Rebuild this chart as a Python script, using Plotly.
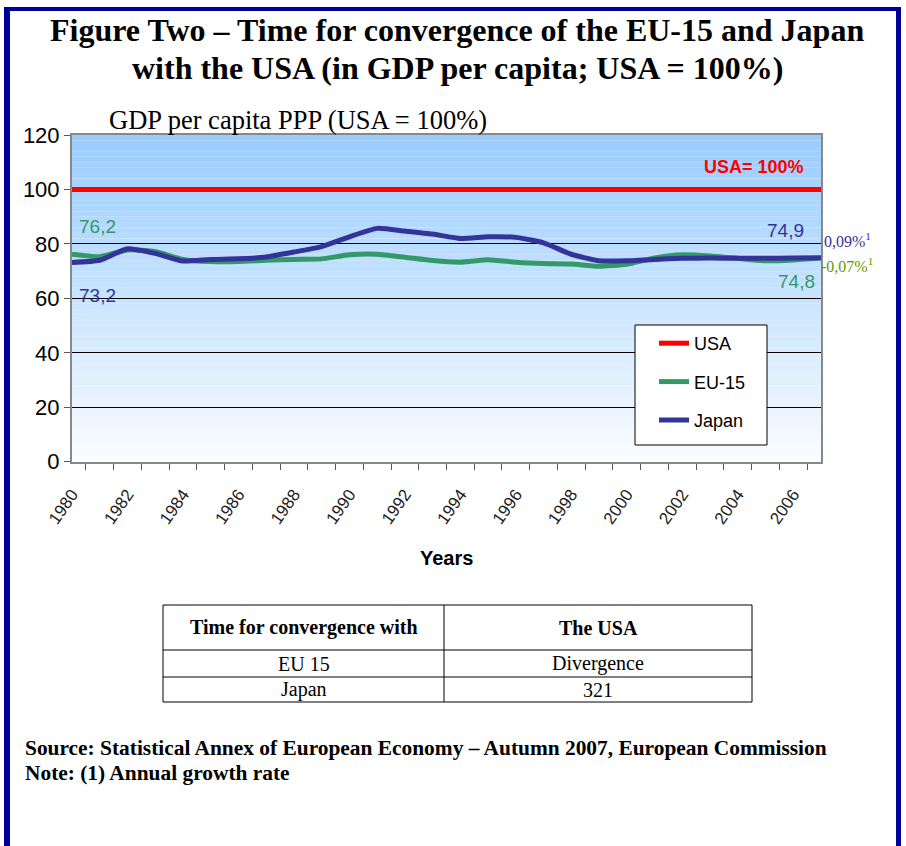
import plotly.graph_objects as go

W, H = 906, 846

years = [str(y) for y in range(1980, 2008)]
usa = [100, 100, 100, 100, 100, 100, 100, 100, 100, 100, 100, 100, 100, 100,
       100, 100, 100, 100, 100, 100, 100, 100, 100, 100, 100, 100, 100, 100]
eu15 = [76.2, 75.3, 77.8, 77.2, 74.3, 73.5, 73.5, 74.0, 74.3, 74.5, 76.0, 76.2, 75.1, 73.9,
        73.3, 74.2, 73.3, 72.8, 72.6, 71.8, 72.5, 74.8, 76.0, 75.6, 74.7, 73.8, 74.1, 74.8]
japan = [73.2, 74.0, 78.2, 76.5, 73.7, 74.3, 74.5, 75.2, 77.0, 79.0, 82.6, 85.7, 84.7, 83.6,
         82.0, 82.6, 82.4, 80.4, 76.2, 73.8, 73.8, 74.3, 74.7, 74.8, 74.7, 74.7, 74.8, 74.9]
tick_labels = [y if int(y) % 2 == 0 else "" for y in years]

table_header = ["Time for convergence with", "The USA"]
table_col1 = ["EU 15", "Japan"]
table_col2 = ["Divergence", "321"]

RED = "#FF0000"
GREEN = "#339966"
BLUE = "#333399"
NAVY = "#000099"
SANS = "Liberation Sans Narrow, Arial Narrow, Liberation Sans, Arial"
SERIF = "Liberation Serif, Times New Roman, serif"


def px_x(x):
    return x / W


def px_y(y):
    return 1 - y / H


fig = go.Figure()

fig.add_trace(go.Scatter(x=years, y=usa, name="USA", mode="lines",
                         line=dict(color=RED, width=5), legendgroup="a"))
fig.add_trace(go.Scatter(x=years, y=eu15, name="EU-15", mode="lines",
                         line=dict(color=GREEN, width=5, shape="spline", smoothing=0.5),
                         legendgroup="b"))
fig.add_trace(go.Scatter(x=years, y=japan, name="Japan", mode="lines",
                         line=dict(color=BLUE, width=5, shape="spline", smoothing=0.5),
                         legendgroup="c"))

shapes = []
# gradient background of the plot area
n = 60
top = (153, 204, 255)
bot = (250, 252, 255)
for i in range(n):
    t = i / (n - 1)
    c = tuple(int(round(bot[k] + (top[k] - bot[k]) * t)) for k in range(3))
    shapes.append(dict(type="rect", xref="x domain", yref="y domain",
                       x0=0, x1=1, y0=i / n, y1=(i + 1) / n, layer="below",
                       line=dict(width=0), fillcolor="rgb(%d,%d,%d)" % c))
# legend box
shapes.append(dict(type="rect", xref="paper", yref="paper", x0=px_x(635), x1=px_x(767),
                   y0=px_y(445), y1=px_y(325), fillcolor="white", layer="above",
                   line=dict(color="black", width=1)))
# page border
shapes.append(dict(type="rect", xref="paper", yref="paper", x0=px_x(4), x1=px_x(10),
                   y0=0, y1=px_y(7), fillcolor=NAVY, line=dict(width=0)))
shapes.append(dict(type="rect", xref="paper", yref="paper", x0=px_x(4), x1=px_x(901),
                   y0=px_y(11), y1=px_y(7), fillcolor=NAVY, line=dict(width=0)))
shapes.append(dict(type="rect", xref="paper", yref="paper", x0=px_x(896), x1=px_x(901),
                   y0=0, y1=px_y(7), fillcolor=NAVY, line=dict(width=0)))

# table frame
TL, TM, TR = 163, 444, 752
TY = [605, 650, 677, 702]
shapes.append(dict(type="rect", xref="paper", yref="paper", x0=px_x(TL), x1=px_x(TR),
                   y0=px_y(TY[3]), y1=px_y(TY[0]), line=dict(color="black", width=1)))
shapes.append(dict(type="line", xref="paper", yref="paper", x0=px_x(TM), x1=px_x(TM),
                   y0=px_y(TY[3]), y1=px_y(TY[0]), line=dict(color="black", width=1)))
for yy in TY[1:3]:
    shapes.append(dict(type="line", xref="paper", yref="paper", x0=px_x(TL), x1=px_x(TR),
                       y0=px_y(yy), y1=px_y(yy), line=dict(color="black", width=1)))

annotations = [
    dict(text="<b>Figure Two – Time for convergence of the EU-15 and Japan</b>",
         x=px_x(457), y=px_y(30), font=dict(family=SERIF, size=32, color="black")),
    dict(text="<b>with the USA (in GDP per capita; USA = 100%)</b>",
         x=px_x(457), y=px_y(68), font=dict(family=SERIF, size=32, color="black")),
    dict(text="GDP per capita PPP (USA = 100%)", x=px_x(107), y=px_y(120), xanchor="left",
         font=dict(family=SERIF, size=26.5, color="black")),
    dict(text="<b>Years</b>", x=px_x(446), y=px_y(558),
         font=dict(family=SANS, size=20, color="black")),
    dict(text="<b>USA= 100%</b>", x=px_x(806), y=px_y(167), xanchor="right",
         font=dict(family=SANS, size=18, color=RED)),
    dict(text="76,2", x=px_x(77), y=px_y(226), xanchor="left",
         font=dict(family=SANS, size=19, color=GREEN)),
    dict(text="73,2", x=px_x(77), y=px_y(295), xanchor="left",
         font=dict(family=SANS, size=19, color=BLUE)),
    dict(text="74,9", x=px_x(806), y=px_y(230), xanchor="right",
         font=dict(family=SANS, size=19, color=BLUE)),
    dict(text="74,8", x=px_x(817), y=px_y(281), xanchor="right",
         font=dict(family=SANS, size=19, color=GREEN)),
    dict(text="0,09%<sup>1</sup>", x=px_x(822), y=px_y(240), xanchor="left",
         font=dict(family=SERIF, size=16, color=BLUE)),
    dict(text="-0,07%<sup>1</sup>", x=px_x(819), y=px_y(265), xanchor="left",
         font=dict(family=SERIF, size=16, color="#669900")),
    dict(text="<b>Source: Statistical Annex of European Economy – Autumn 2007, European Commission</b>",
         x=px_x(23), y=px_y(748), xanchor="left",
         font=dict(family=SERIF, size=21.4, color="black")),
    dict(text="<b>Note: (1) Annual growth rate</b>",
         x=px_x(23), y=px_y(773), xanchor="left",
         font=dict(family=SERIF, size=21.4, color="black")),
]
# table texts
col_x = [(TL + TM) / 2, (TM + TR) / 2]
for j, h in enumerate(table_header):
    annotations.append(dict(text="<b>" + h + "</b>", x=px_x(col_x[j]),
                            y=px_y((TY[0] + TY[1]) / 2),
                            font=dict(family=SERIF, size=20, color="black")))
for i in range(2):
    yc = (TY[i + 1] + TY[i + 2]) / 2
    annotations.append(dict(text=table_col1[i], x=px_x(col_x[0]), y=px_y(yc),
                            font=dict(family=SERIF, size=20, color="black")))
    annotations.append(dict(text=table_col2[i], x=px_x(col_x[1]), y=px_y(yc),
                            font=dict(family=SERIF, size=20, color="black")))

for a in annotations:
    a.update(xref="paper", yref="paper", showarrow=False)
    a.setdefault("xanchor", "center")
    a.setdefault("yanchor", "middle")

fig.update_layout(
    width=W, height=H,
    margin=dict(l=0, r=0, t=0, b=0, autoexpand=False),
    paper_bgcolor="white",
    plot_bgcolor="white",
    shapes=shapes,
    annotations=annotations,
    showlegend=True,
    legend=dict(x=px_x(654), y=px_y(325), xanchor="left", yanchor="top",
                bgcolor="rgba(0,0,0,0)", borderwidth=0,
                font=dict(family=SANS, size=18, color="black"),
                tracegroupgap=12, itemwidth=30),
    xaxis=dict(domain=[px_x(72), px_x(821)], type="category", automargin=False,
               tickmode="array", tickvals=years, ticktext=tick_labels,
               tickson="boundaries", ticks="outside", ticklen=6, tickcolor="#555555",
               tickangle=-55, tickfont=dict(family=SANS, size=17, color="#222222"),
               ticklabelstandoff=14,
               showline=True, linecolor="#888888", linewidth=2, mirror=True,
               showgrid=False, zeroline=False),
    yaxis=dict(domain=[px_y(461.7), px_y(135)], range=[0, 120], dtick=20, automargin=False,
               ticks="outside", ticklen=6, tickcolor="#555555",
               tickfont=dict(family=SANS, size=22, color="black"),
               showline=True, linecolor="#888888", linewidth=2, mirror=True,
               showgrid=True, gridcolor="black", gridwidth=1, zeroline=False),
)

fig.write_html("out.html")
